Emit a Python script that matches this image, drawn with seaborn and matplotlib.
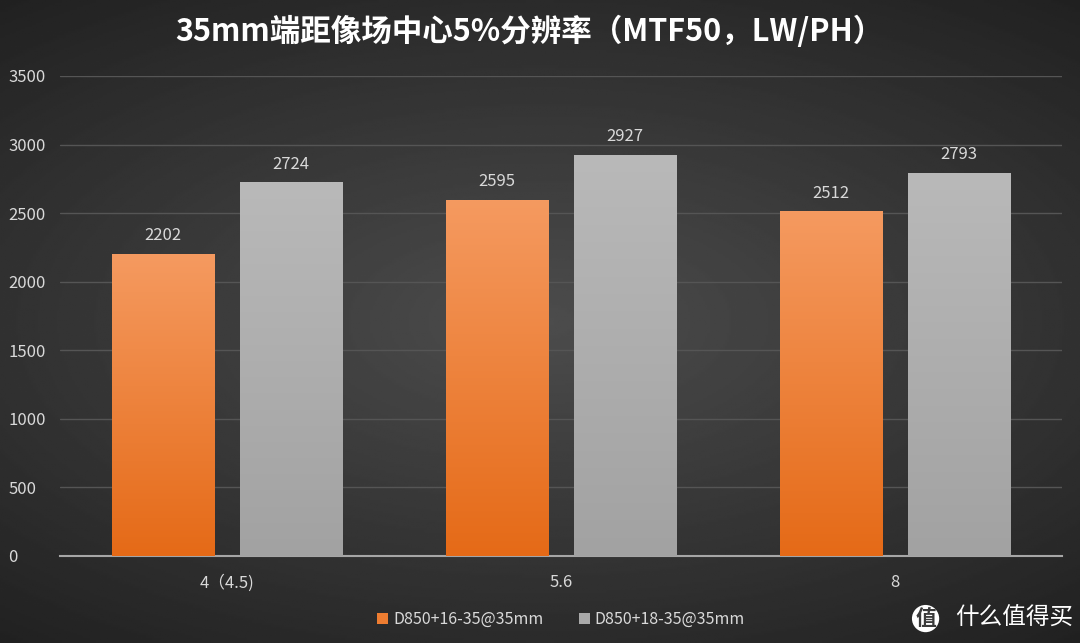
import numpy as np
import pandas as pd
import matplotlib
matplotlib.use('Agg')
import matplotlib.pyplot as plt
from matplotlib.colors import LinearSegmentedColormap
import seaborn as sns

apertures = ['4（4.5)', '5.6', '8']
lens_16_35 = [2202, 2595, 2512]
lens_18_35 = [2724, 2927, 2793]
series_names = ['D850+16-35@35mm', 'D850+18-35@35mm']

df = pd.DataFrame({
    'aperture': apertures * 2,
    'value': lens_16_35 + lens_18_35,
    'lens': [series_names[0]] * 3 + [series_names[1]] * 3,
})

sns.set_style('dark')
plt.rcParams['font.family'] = ['Noto Sans CJK SC', 'DejaVu Sans']

fig = plt.figure(figsize=(10.8, 6.43), dpi=100)

# фон с радиальным градиентом
bg = fig.add_axes([0, 0, 1, 1], zorder=-10)
yy, xx = np.mgrid[-1:1:300j, -1:1:500j]
r = np.sqrt((xx * 0.9) ** 2 + (yy * 1.1) ** 2)
bg.imshow(0.30 - 0.12 * np.clip(r, 0, 1.4), cmap='gray', vmin=0, vmax=1,
          aspect='auto', extent=[0, 1, 0, 1])
bg.axis('off')

ax = fig.add_axes([60 / 1080, 1 - 556 / 643, 1002 / 1080, 480 / 643])
ax.set_facecolor('none')

palette = {series_names[0]: '#ee7d31', series_names[1]: '#a9a9a9'}
sns.barplot(data=df, x='aperture', y='value', hue='lens', palette=palette,
            width=0.768, gap=0.2, saturation=1, ax=ax, legend=True, zorder=3,
            linewidth=0, edgecolor='none')

# градиентная заливка столбцов
grads = [LinearSegmentedColormap.from_list('o', ['#e56a17', '#f59a60']),
         LinearSegmentedColormap.from_list('g', ['#a2a2a2', '#b9b9b9'])]
grad = np.linspace(0, 1, 256).reshape(-1, 1)
for i, cont in enumerate(ax.containers):
    for p in cont.patches:
        x0, y0 = p.get_x(), p.get_y()
        im = ax.imshow(grad, cmap=grads[i], origin='lower', aspect='auto',
                       extent=[x0, x0 + p.get_width(), y0, y0 + p.get_height()],
                       zorder=3.5)
        im.set_clip_path(p)
    ax.bar_label(cont, padding=7, color='#d9d9d9', fontsize=12)

ax.set_ylim(0, 3500)
ax.set_yticks(range(0, 3501, 500))
ax.set_xlim(-0.5, 2.5)
ax.grid(axis='y', color='#555555', linewidth=1, zorder=0)
ax.grid(axis='x', visible=False)
for s in ['top', 'right', 'left']:
    ax.spines[s].set_visible(False)
ax.spines['bottom'].set_color('#a6a6a6')
ax.spines['bottom'].set_linewidth(1.5)
ax.tick_params(axis='both', colors='#d9d9d9', labelsize=12, length=0)
ax.tick_params(axis='x', pad=13)
ax.tick_params(axis='y', pad=37)
for t in ax.get_yticklabels():
    t.set_horizontalalignment('left')
ax.set_xlabel('')
ax.set_ylabel('')

leg = ax.legend(loc='upper center', bbox_to_anchor=(0.5, -0.085), ncol=2,
                frameon=False, fontsize=11.5, handlelength=0.7, handleheight=0.7,
                handletextpad=0.3, columnspacing=2.2)
for t in leg.get_texts():
    t.set_color('#d9d9d9')

fig.text(0.49, 0.95, '35mm端距像场中心5%分辨率（MTF50，LW/PH）', ha='center', va='center',
         color='white', fontsize=22, fontweight='bold')

fig.text(0.857, 0.038, '值', ha='center', va='center', color='#3a3a3a', fontsize=15,
         fontweight='bold',
         bbox=dict(boxstyle='circle,pad=0.15', facecolor='white', edgecolor='none'))
fig.text(0.884, 0.038, '什么值得买', ha='left', va='center', color='white', fontsize=17)

fig.savefig('out.png', dpi=100)
